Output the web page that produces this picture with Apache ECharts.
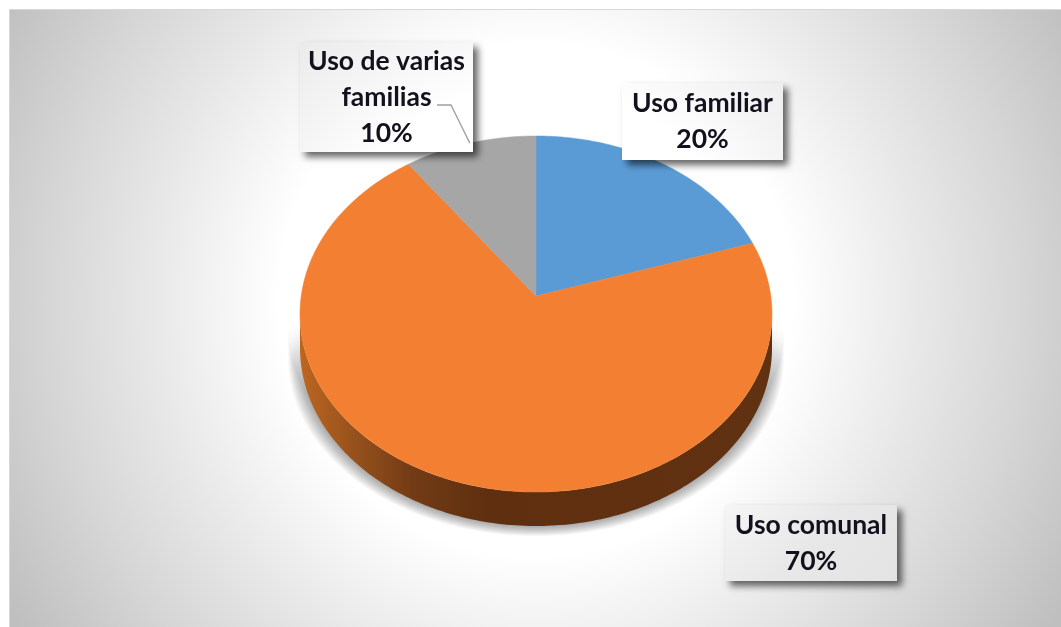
<!DOCTYPE html>
<html>
<head>
<meta charset="utf-8">
<style>html,body{margin:0;padding:0;background:#fff}#c{width:1061px;height:627px;filter:blur(0.6px)}</style>
<script src="https://cdn.jsdelivr.net/npm/echarts@6/dist/echarts.min.js"></script>
</head>
<body>
<div id="c"></div>
<script>
// ---- data ----
var categories = ['Uso familiar', 'Uso comunal', 'Uso de varias\nfamilias'];
var values = [20, 70, 10];
var sliceColors = ['#5b9bd5', '#f38032', '#a6a6a6'];

// ---- layout ----
var labelBoxes = [
  { x: 622, y: 83, w: 161, h: 77 },
  { x: 725, y: 505, w: 172, h: 76 },
  { x: 300, y: 42, w: 173, h: 110 }
];
var CX = 536, CY = 296, K = 0.1011, A = 176.2, B = 234.8, DEPTH = 34;
var SHADOW_LAYERS = 10;

function project(frac) {
  var t = frac * Math.PI * 2, u = Math.sin(t), v = Math.cos(t), d = 1 + K * v;
  return [CX + B * u / d, CY - A * v / d];
}
function rim(fromFrac, toFrac) {
  var pts = [], n = Math.max(2, Math.ceil((toFrac - fromFrac) * 360));
  for (var i = 0; i <= n; i++) pts.push(project(fromFrac + (toFrac - fromFrac) * i / n));
  return pts;
}
var total = values.reduce(function (a, b) { return a + b; }, 0);
var cum = 0;
var sliceData = values.map(function (v) { var r = [v, cum]; cum += v; return r; });

function paleFill() {
  return { type: 'radial', x: 536, y: 300, r: 610, global: true, colorStops: [
    { offset: 0, color: '#ffffff' }, { offset: 0.35, color: '#ffffff' },
    { offset: 0.6, color: '#e8e8e8' }, { offset: 1, color: '#dcdcdc' }] };
}

// lower visible half of the rim between two fractions
function wallPoints(a, b) {
  var lo = 0.25 + Math.asin(K) / (2 * Math.PI), hi = 0.75 - Math.asin(K) / (2 * Math.PI);
  var s = Math.max(a, lo), e = Math.min(b, hi);
  if (e <= s) return null;
  var top = rim(s, e);
  var bottom = top.map(function (p) { return [p[0], p[1] + DEPTH]; }).reverse();
  return top.concat(bottom);
}

var wallFill = { type: 'linear', x: 300, y: 0, x2: 772, y2: 0, global: true, colorStops: [
  { offset: 0, color: '#bd6620' }, { offset: 0.12, color: '#95501c' },
  { offset: 0.24, color: '#723b15' }, { offset: 0.4, color: '#5f2f10' }, { offset: 1, color: '#613211' }] };

var option = {
  animation: false,
  backgroundColor: '#ffffff',
  graphic: [{
    type: 'rect', z: 0, silent: true,
    shape: { x: 9.5, y: 9.5, width: 1060, height: 630 },
    style: {
      stroke: '#d8d8d8', lineWidth: 1,
      fill: { type: 'radial', x: 536, y: 300, r: 610, global: true, colorStops: [
        { offset: 0, color: '#ffffff' }, { offset: 0.42, color: '#ffffff' },
        { offset: 0.62, color: '#e9e9e9' }, { offset: 0.8, color: '#d6d6d6' }, { offset: 1, color: '#bfbfbf' }] }
    }
  }],
  series: [
    { // ground shadow and side wall
      type: 'custom', coordinateSystem: 'none', z: 2, silent: true, data: sliceData,
      renderItem: function (params, api) {
        var pts = wallPoints(api.value(1) / total, (api.value(1) + api.value(0)) / total);
        if (!pts) return { type: 'group', children: [] };
        var children = [];
        for (var l = SHADOW_LAYERS; l >= 1; l--) {
          var f = l / SHADOW_LAYERS;
          children.push({ type: 'polygon',
            shape: { points: pts.map(function (p) {
              return [CX + (p[0] - CX) * (1 + 0.05 * f), p[1] + 10 * f];
            }) },
            style: { fill: 'rgba(0,0,0,0.035)' } });
        }
        children.push({ type: 'polygon', shape: { points: pts }, style: { fill: wallFill } });
        return { type: 'group', children: children };
      }
    },
    { // top faces
      type: 'custom', coordinateSystem: 'none', z: 3, silent: true, data: sliceData,
      renderItem: function (params, api) {
        var a = api.value(1) / total, b = (api.value(1) + api.value(0)) / total;
        return { type: 'polygon', shape: { points: [[CX, CY]].concat(rim(a, b)) },
          style: { fill: sliceColors[params.dataIndex], stroke: sliceColors[params.dataIndex], lineWidth: 0.5 } };
      }
    },
    { // data labels
      type: 'custom', coordinateSystem: 'none', z: 4, silent: true, data: sliceData,
      renderItem: function (params, api) {
        var i = params.dataIndex, box = labelBoxes[i];
        var children = [
          { type: 'rect', shape: { x: box.x, y: box.y, width: box.w, height: box.h },
            style: { fill: paleFill(), shadowBlur: 7, shadowOffsetX: 5, shadowOffsetY: 5, shadowColor: 'rgba(0,0,0,0.6)' } },
          { type: 'text', style: {
              x: box.x + box.w / 2, y: box.y + box.h / 2,
              text: categories[i] + '\n' + api.value(0) + '%',
              align: 'center', verticalAlign: 'middle',
              font: 'bold 26.5px Lato', lineHeight: 36, fill: '#12121e' } }
        ];
        if (i === 2) {
          var end = project((api.value(1) + api.value(0) / 2) / total);
          children.push({ type: 'polyline', shape: { points: [[437, 105], [451, 105], end] },
            style: { stroke: '#a0a0a0', lineWidth: 1.3, fill: 'none' } });
        }
        return { type: 'group', children: children };
      }
    }
  ]
};
echarts.init(document.getElementById('c'), null, { renderer: 'canvas' }).setOption(option);
</script>
</body>
</html>
